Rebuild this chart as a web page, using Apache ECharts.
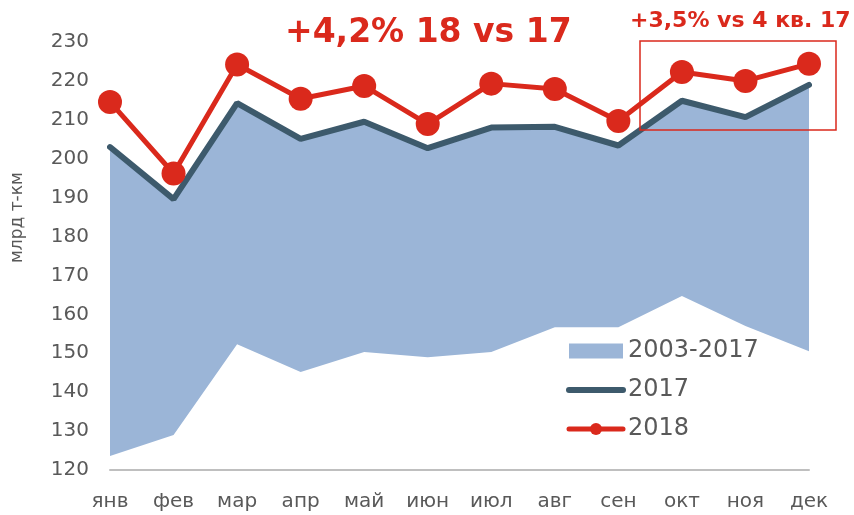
<!DOCTYPE html>
<html>
<head>
<meta charset="utf-8">
<script src="https://cdn.jsdelivr.net/npm/echarts@6/dist/echarts.min.js"></script>
<style>
  html, body { margin: 0; padding: 0; background: #fff; }
  #chart { width: 854px; height: 515px; }
</style>
</head>
<body>
<div id="chart"></div>
<script>
// months
const months = ['янв', 'фев', 'мар', 'апр', 'май', 'июн', 'июл', 'авг', 'сен', 'окт', 'ноя', 'дек'];
// range 2003-2017, low and high edge of the band
const bandMin = [123.6, 129.0, 152.3, 145.2, 150.3, 149.0, 150.3, 156.7, 156.7, 164.7, 157.0, 150.5];
const bandMax = [203.0, 189.6, 214.3, 205.1, 209.5, 202.7, 208.0, 208.2, 203.4, 214.9, 210.7, 219.0];
const y2017 = [203.0, 189.6, 214.3, 205.1, 209.5, 202.7, 208.0, 208.2, 203.4, 214.9, 210.7, 219.0];
const y2018 = [214.6, 196.2, 224.2, 215.4, 218.7, 208.9, 219.3, 217.9, 209.7, 222.3, 220.0, 224.4];
const yTicks = { min: 120, max: 230, interval: 10 };

const grey = '#595959';
const red = '#da291c';
const font = "'DejaVu Sans', Verdana, sans-serif";

let bandDiff = [];
for (let i = 0; i < bandMax.length; i++) {
  bandDiff.push(+(bandMax[i] - bandMin[i]).toFixed(2));
}

let myChart = echarts.init(document.getElementById('chart'), null, { renderer: 'canvas' });
myChart.setOption({
  animation: false,
  textStyle: { fontFamily: font },
  grid: {
    left: 110,
    right: 45,
    top: 42,
    bottom: 45,
    outerBoundsMode: 'none'
  },
  legend: {
    orient: 'vertical',
    left: 566,
    top: 339,
    padding: 0,
    itemWidth: 54,
    itemHeight: 15,
    itemGap: 15,
    textStyle: { color: grey, fontSize: 24, fontFamily: font },
    data: [
      { name: '2003-2017', icon: 'rect' },
      { name: '2017', lineStyle: { width: 6, cap: 'round' }, itemStyle: { opacity: 0 } },
      { name: '2018', lineStyle: { width: 5, cap: 'round' } }
    ]
  },
  xAxis: {
    type: 'category',
    boundaryGap: false,
    data: months,
    axisLine: { lineStyle: { color: '#bfbfbf', width: 2 } },
    axisTick: { show: false },
    axisLabel: { color: grey, fontSize: 20, margin: 22 }
  },
  yAxis: {
    type: 'value',
    min: yTicks.min,
    max: yTicks.max,
    interval: yTicks.interval,
    axisLine: { show: false },
    axisTick: { show: false },
    splitLine: { show: false },
    axisLabel: { color: grey, fontSize: 20, margin: 21 }
  },
  series: [
    {
      name: 'base',
      type: 'line',
      stack: 'band',
      data: bandMin,
      symbol: 'none',
      lineStyle: { width: 0, opacity: 0 },
      silent: true,
      z: 1
    },
    {
      name: '2003-2017',
      type: 'line',
      stack: 'band',
      data: bandDiff,
      symbol: 'none',
      itemStyle: { color: '#9bb5d7' },
      lineStyle: { width: 0, opacity: 0 },
      areaStyle: { color: '#9bb5d7', opacity: 1 },
      z: 2
    },
    {
      name: '2017',
      type: 'line',
      data: y2017,
      symbol: 'none',
      itemStyle: { color: '#3d5a6c' },
      lineStyle: { color: '#3d5a6c', width: 6, cap: 'round' },
      z: 3
    },
    {
      name: '2018',
      type: 'line',
      data: y2018,
      symbol: 'circle',
      symbolSize: 24,
      itemStyle: { color: red },
      lineStyle: { color: red, width: 5 },
      z: 4
    }
  ],
  graphic: [
    {
      type: 'text',
      left: 285,
      top: 17,
      style: { text: '+4,2% 18 vs 17', fill: red, font: 'bold 33px ' + font }
    },
    {
      type: 'text',
      left: 630,
      top: 10,
      style: { text: '+3,5% vs 4 кв. 17', fill: red, font: 'bold 22px ' + font }
    },
    {
      type: 'rect',
      shape: { x: 640, y: 41, width: 196, height: 89 },
      style: { fill: 'none', stroke: red, lineWidth: 1.5 },
      z: 10
    },
    {
      type: 'text',
      x: 9,
      y: 263,
      rotation: Math.PI / 2,
      style: { text: 'млрд т-км', fill: grey, font: '17px ' + font }
    }
  ]
});
</script>
</body>
</html>
